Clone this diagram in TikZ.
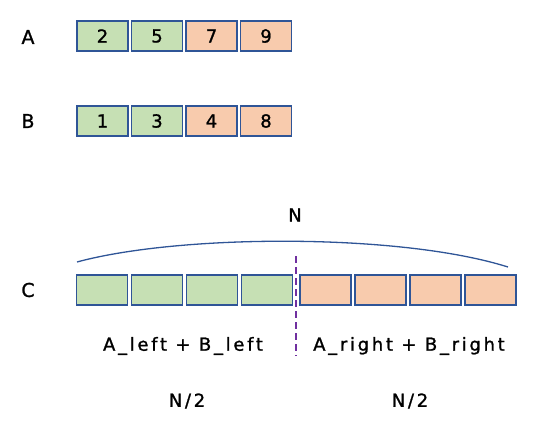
\documentclass[tikz,border=0pt]{standalone}
\usepackage{fontspec}
\setmainfont[FakeBold=1.2]{DejaVu Sans}
\newfontfamily\widefont[LetterSpace=15,FakeBold=1.2]{DejaVu Sans}
\definecolor{cellgreen}{HTML}{C6E0B4}
\definecolor{cellorange}{HTML}{F8CBAD}
\definecolor{cellborder}{HTML}{2F5597}
\definecolor{splitpurple}{HTML}{7030A0}
\tikzset{
  cell/.style={draw=cellborder,line width=1.5pt,minimum width=51pt,minimum height=30pt,inner sep=0pt,font=\fontsize{18}{18}\selectfont},
  lo/.style={cell,fill=cellgreen},
  hi/.style={cell,fill=cellorange},
  rowlabel/.style={font=\fontsize{19}{19}\selectfont},
  txt/.style={font=\widefont\fontsize{18}{18}\selectfont}
}
\begin{document}
\begin{tikzpicture}[x=1pt,y=-1pt]
        \useasboundingbox (0,0) rectangle (544,433);
        % array A
        \node[rowlabel] (labA) at (28,37) {A};
        \node[lo] (a1) at (102.5,36) {2};
        \node[lo] (a2) at (157,36) {5};
        \node[hi] (a3) at (211.5,36) {7};
        \node[hi] (a4) at (266,36) {9};
        % array B
        \node[rowlabel] (labB) at (28,121) {B};
        \node[lo] (b1) at (102.5,121) {1};
        \node[lo] (b2) at (157,121) {3};
        \node[hi] (b3) at (211.5,121) {4};
        \node[hi] (b4) at (266,121) {8};
        % merged array C
        \node[rowlabel] (labC) at (28,290) {C};
        \node[lo] (c1) at (102,290) {};
        \node[lo] (c2) at (157,290) {};
        \node[lo] (c3) at (212,290) {};
        \node[lo] (c4) at (267,290) {};
        \node[hi] (c5) at (325.5,290) {};
        \node[hi] (c6) at (380.5,290) {};
        \node[hi] (c7) at (435.5,290) {};
        \node[hi] (c8) at (490.5,290) {};

        \coordinate (arcL) at (77,262);
        \coordinate (arcR) at (508,267);
        \draw[cellborder,line width=1.3pt] (arcL) .. controls (180,234) and (400,233) .. (arcR);
        \node[txt] (lenN) at (295,215) {N};

        \coordinate (cutT) at (296,256);
        \coordinate (cutB) at (296,356);
        \draw[splitpurple,line width=2.6pt,dash pattern=on 7pt off 4pt] (cutT) -- (cutB);

        \node[txt] (left) at (183,346) {A\_left + B\_left};
        \node[txt] (right) at (409,346) {A\_right + B\_right};
        \node[txt] (halfL) at (187,401) {N/2};
        \node[txt] (halfR) at (410,401) {N/2};
    \end{tikzpicture}
\end{document}
